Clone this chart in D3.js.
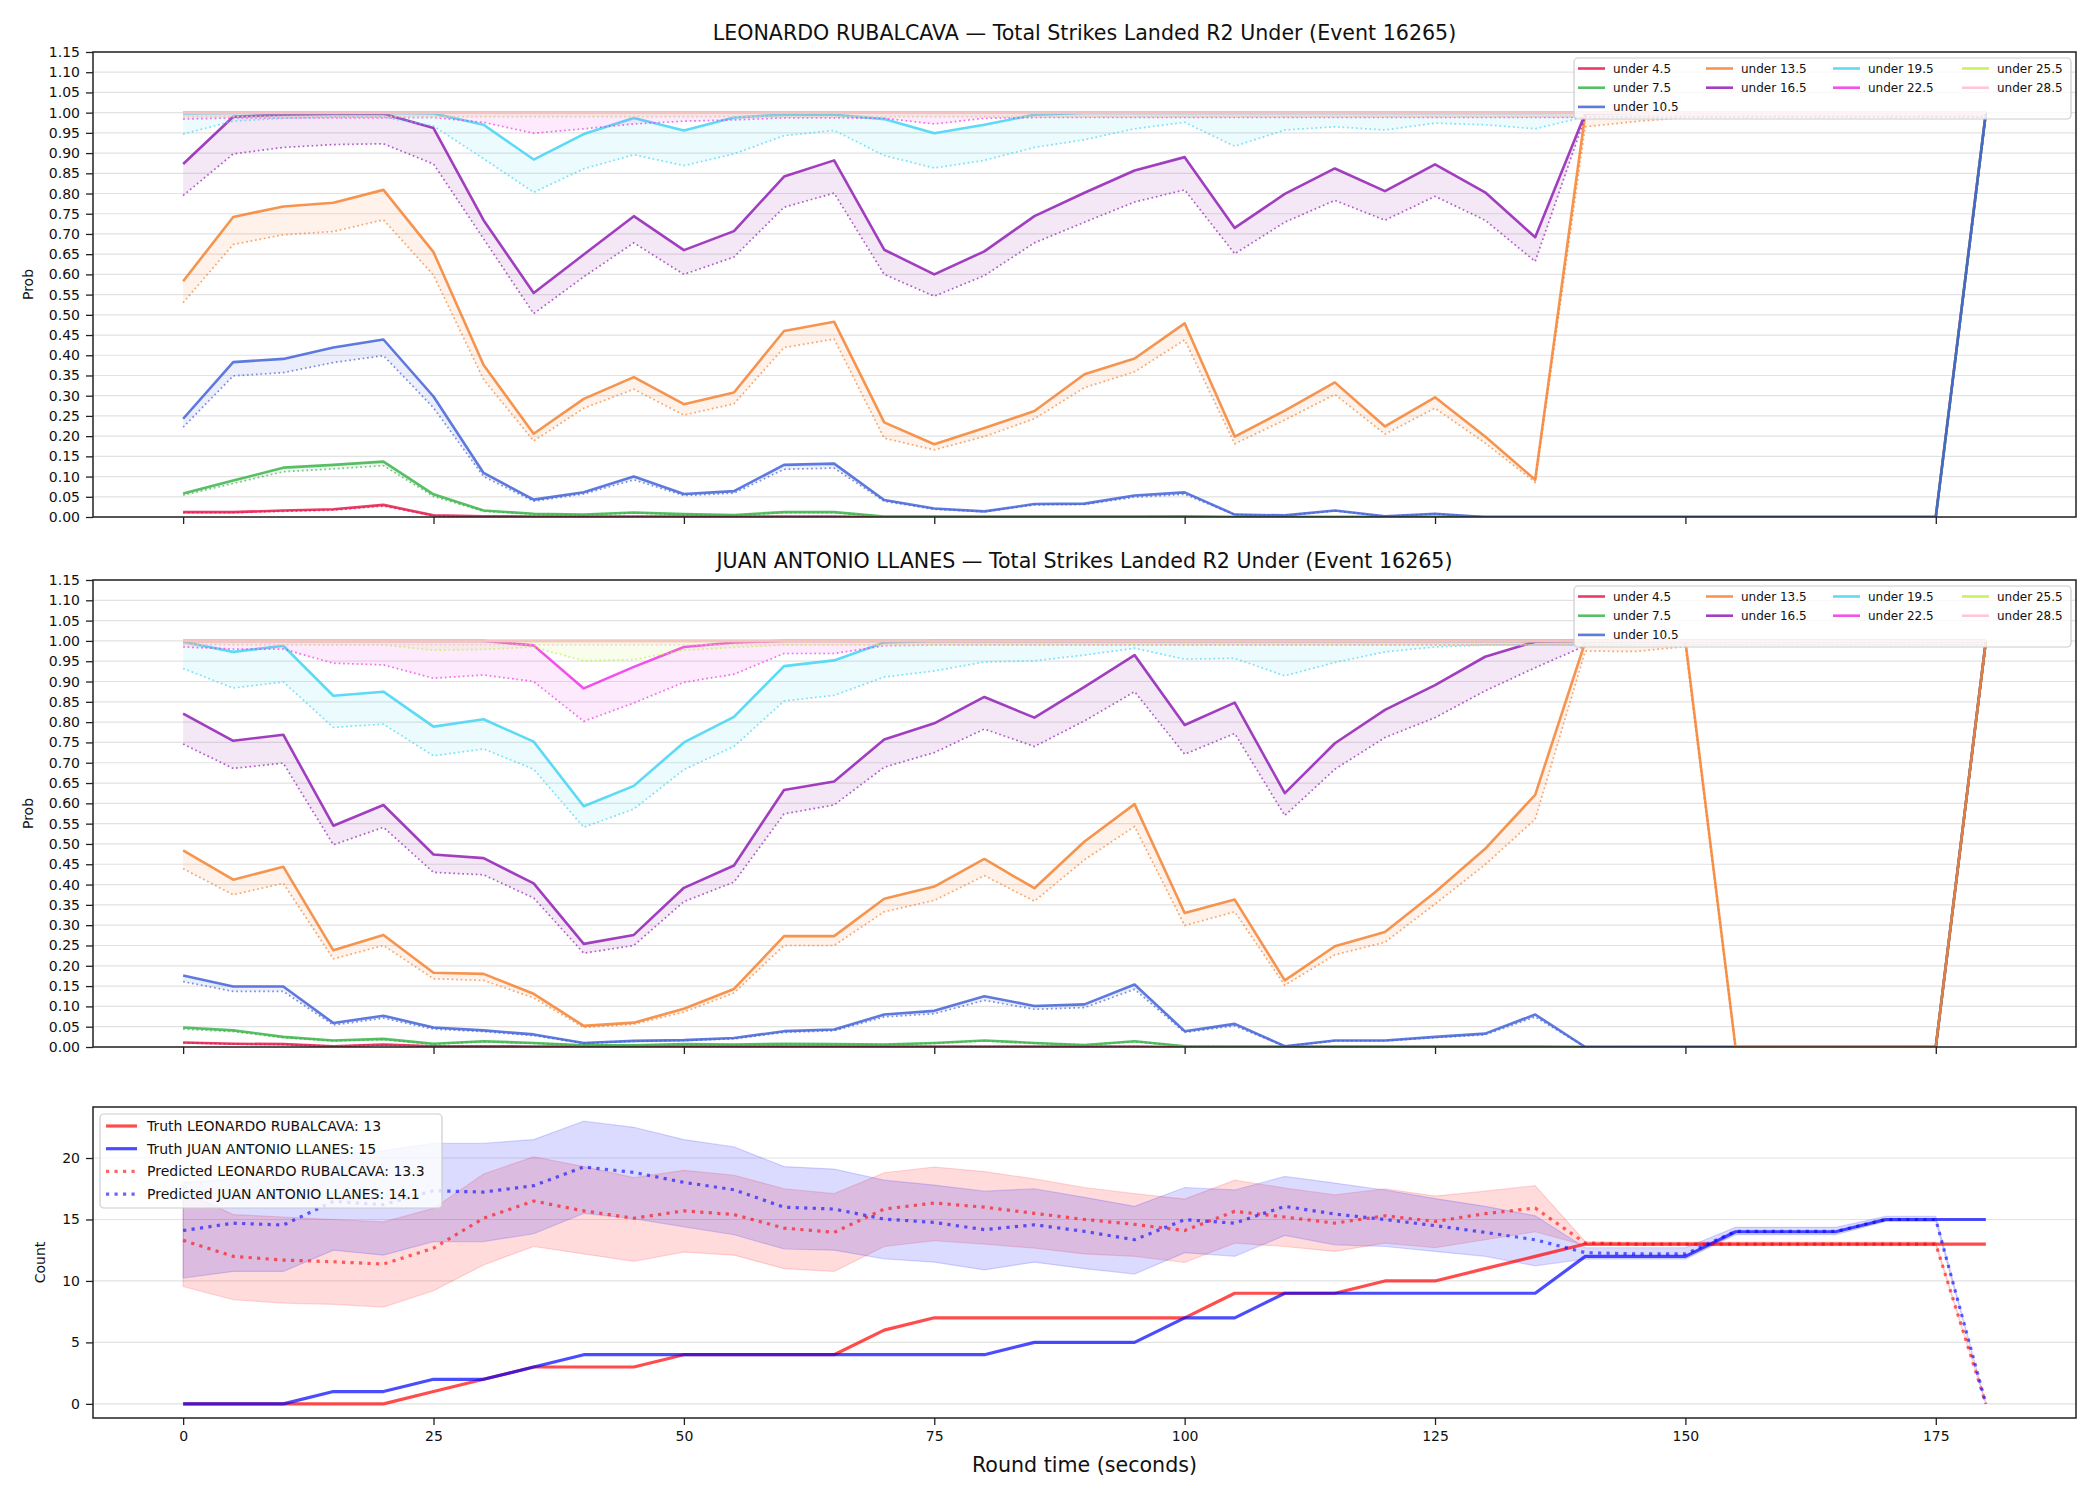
<!DOCTYPE html>
<html>
<head>
<meta charset="utf-8">
<script src="https://cdn.jsdelivr.net/npm/d3@7"></script>
<style>
  body { margin: 0; background: #fff; }
  svg { display: block; }
  text { font-family: "DejaVu Sans", sans-serif; fill: #111; }
</style>
</head>
<body>
<svg id="chart" width="2100" height="1500"></svg>
<script>
// round time, seconds
var time = [0, 5, 10, 15, 20, 25, 30, 35, 40, 45,
            50, 55, 60, 65, 70, 75, 80, 85, 90, 95,
            100, 105, 110, 115, 120, 125, 130, 135, 140, 145,
            150, 155, 160, 165, 170, 175, 180];

var timeTicks = [0, 25, 50, 75, 100, 125, 150, 175];
var probTicks = [0, 0.05, 0.10, 0.15, 0.20, 0.25, 0.30, 0.35, 0.40, 0.45, 0.50, 0.55,
                 0.60, 0.65, 0.70, 0.75, 0.80, 0.85, 0.90, 0.95, 1.00, 1.05, 1.10, 1.15];
var countTicks = [0, 5, 10, 15, 20];

var thresholds = ['under 4.5', 'under 7.5', 'under 10.5', 'under 13.5', 'under 16.5',
                  'under 19.5', 'under 22.5', 'under 25.5', 'under 28.5'];
var colors = ['#e6194b', '#3cb44b', '#4363d8', '#f58231', '#911eb4',
              '#42d4f4', '#f032e6', '#bfef45', '#fabed4'];

var allOne = [1, 1, 1, 1, 1, 1, 1, 1, 1, 1,
              1, 1, 1, 1, 1, 1, 1, 1, 1, 1,
              1, 1, 1, 1, 1, 1, 1, 1, 1, 1,
              1, 1, 1, 1, 1, 1, 1];
var allNear = [0.99, 0.99, 0.99, 0.99, 0.99, 0.99, 0.99, 0.99, 0.99, 0.99,
               0.99, 0.99, 0.99, 0.99, 0.99, 0.99, 0.99, 0.99, 0.99, 0.99,
               0.99, 0.99, 0.99, 0.99, 0.99, 0.99, 0.99, 0.99, 0.99, 0.99,
               0.99, 0.99, 0.99, 0.99, 0.99, 0.99, 0.99];

// ---- LEONARDO RUBALCAVA (solid = line, dotted = lower band) ----
var leoU45 = [0.012, 0.012, 0.016, 0.019, 0.030, 0.004, 0.002, 0.001, 0.001, 0.001,
              0.001, 0.001, 0.001, 0.001, 0, 0, 0, 0, 0, 0,
              0, 0, 0, 0, 0, 0, 0, 0, 0, 0,
              0, 0, 0, 0, 0, 0, 1];
var leoD45 = [0.011, 0.011, 0.014, 0.017, 0.027, 0.003, 0.001, 0.001, 0.001, 0.001,
              0.001, 0.001, 0.001, 0.001, 0, 0, 0, 0, 0, 0,
              0, 0, 0, 0, 0, 0, 0, 0, 0, 0,
              0, 0, 0, 0, 0, 0, 0.99];
var leoU75 = [0.058, 0.090, 0.122, 0.129, 0.137, 0.056, 0.016, 0.008, 0.006, 0.011,
              0.007, 0.005, 0.012, 0.012, 0.001, 0.001, 0.001, 0.001, 0.001, 0.001,
              0.002, 0, 0, 0, 0, 0, 0, 0, 0, 0,
              0, 0, 0, 0, 0, 0, 1];
var leoD75 = [0.054, 0.083, 0.112, 0.119, 0.127, 0.051, 0.014, 0.007, 0.005, 0.010,
              0.006, 0.004, 0.011, 0.011, 0.001, 0.001, 0.001, 0.001, 0.001, 0.001,
              0.002, 0, 0, 0, 0, 0, 0, 0, 0, 0,
              0, 0, 0, 0, 0, 0, 0.99];
var leoU105 = [0.243, 0.383, 0.391, 0.419, 0.439, 0.298, 0.109, 0.043, 0.061, 0.100,
               0.057, 0.064, 0.129, 0.132, 0.042, 0.021, 0.014, 0.032, 0.033, 0.053,
               0.061, 0.006, 0.004, 0.016, 0.002, 0.008, 0, 0, 0, 0,
               0, 0, 0, 0, 0, 0, 1];
var leoD105 = [0.222, 0.349, 0.357, 0.382, 0.399, 0.270, 0.100, 0.039, 0.057, 0.092,
               0.053, 0.059, 0.118, 0.121, 0.039, 0.019, 0.013, 0.030, 0.031, 0.049,
               0.056, 0.006, 0.004, 0.015, 0.002, 0.007, 0, 0, 0, 0,
               0, 0, 0, 0, 0, 0, 0.99];
var leoU135 = [0.583, 0.742, 0.768, 0.777, 0.809, 0.655, 0.376, 0.206, 0.292, 0.346,
               0.279, 0.308, 0.460, 0.483, 0.234, 0.180, 0.220, 0.262, 0.353, 0.392,
               0.479, 0.199, 0.263, 0.333, 0.224, 0.296, 0.199, 0.092, 0.998, 1,
               1, 1, 1, 1, 1, 1, 1];
var leoD135 = [0.530, 0.674, 0.698, 0.706, 0.735, 0.598, 0.340, 0.188, 0.269, 0.316,
               0.252, 0.280, 0.419, 0.440, 0.195, 0.166, 0.199, 0.243, 0.320, 0.359,
               0.438, 0.181, 0.240, 0.303, 0.205, 0.269, 0.183, 0.086, 0.965, 0.978,
               0.988, 0.99, 0.99, 0.99, 0.99, 0.99, 0.99];
var leoU165 = [0.873, 0.990, 0.995, 0.997, 0.997, 0.962, 0.734, 0.554, 0.649, 0.744,
               0.660, 0.707, 0.842, 0.882, 0.661, 0.600, 0.657, 0.744, 0.802, 0.857,
               0.890, 0.715, 0.799, 0.862, 0.806, 0.872, 0.803, 0.692, 0.998, 1,
               1, 1, 1, 1, 1, 1, 1];
var leoD165 = [0.795, 0.898, 0.914, 0.921, 0.923, 0.873, 0.688, 0.503, 0.594, 0.678,
               0.600, 0.643, 0.766, 0.801, 0.600, 0.546, 0.597, 0.678, 0.729, 0.779,
               0.809, 0.651, 0.729, 0.783, 0.734, 0.793, 0.734, 0.632, 0.990, 0.99,
               0.99, 0.99, 0.99, 0.99, 0.99, 0.99, 0.99];
var leoU195 = [0.998, 0.999, 0.999, 0.999, 0.999, 0.998, 0.970, 0.884, 0.947, 0.987,
               0.956, 0.988, 0.995, 0.995, 0.984, 0.949, 0.970, 0.995, 0.999, 0.999,
               0.999, 0.999, 0.999, 0.999, 0.999, 0.999, 0.999, 0.999, 1, 1,
               1, 1, 1, 1, 1, 1, 1];
var leoD195 = [0.947, 0.979, 0.986, 0.989, 0.989, 0.967, 0.886, 0.803, 0.861, 0.896,
               0.869, 0.898, 0.943, 0.956, 0.894, 0.863, 0.882, 0.914, 0.933, 0.960,
               0.976, 0.917, 0.957, 0.965, 0.957, 0.974, 0.970, 0.960, 0.990, 0.99,
               0.99, 0.99, 0.99, 0.99, 0.99, 0.99, 0.99];
var leoD225 = [0.984, 0.987, 0.987, 0.987, 0.987, 0.988, 0.976, 0.949, 0.960, 0.972,
               0.979, 0.982, 0.987, 0.987, 0.986, 0.972, 0.986, 0.988, 0.988, 0.988,
               0.988, 0.988, 0.988, 0.988, 0.988, 0.988, 0.988, 0.988, 0.988, 0.988,
               0.988, 0.988, 0.988, 0.988, 0.988, 0.988, 0.988];

// ---- JUAN ANTONIO LLANES ----
var juaU45 = [0.011, 0.008, 0.007, 0.002, 0.006, 0.002, 0.002, 0.001, 0.001, 0.001,
              0.001, 0.001, 0.001, 0.001, 0.001, 0.001, 0.001, 0.001, 0.001, 0.001,
              0, 0, 0, 0, 0, 0, 0, 0, 0, 0,
              0, 0, 0, 0, 0, 0, 1];
var juaD45 = [0.010, 0.007, 0.006, 0.002, 0.005, 0.002, 0.002, 0.001, 0.001, 0.001,
              0.001, 0.001, 0.001, 0.001, 0.001, 0.001, 0.001, 0.001, 0.001, 0.001,
              0, 0, 0, 0, 0, 0, 0, 0, 0, 0,
              0, 0, 0, 0, 0, 0, 0.99];
var juaU75 = [0.048, 0.041, 0.025, 0.016, 0.020, 0.008, 0.014, 0.010, 0.004, 0.004,
              0.007, 0.006, 0.008, 0.007, 0.006, 0.010, 0.016, 0.010, 0.005, 0.014,
              0.002, 0.001, 0.001, 0.001, 0.001, 0.001, 0.001, 0.001, 0, 0,
              0, 0, 0, 0, 0, 0, 1];
var juaD75 = [0.044, 0.038, 0.023, 0.015, 0.018, 0.007, 0.013, 0.009, 0.004, 0.004,
              0.006, 0.005, 0.007, 0.006, 0.006, 0.009, 0.015, 0.009, 0.005, 0.013,
              0.002, 0.001, 0.001, 0.001, 0.001, 0.001, 0.001, 0.001, 0, 0,
              0, 0, 0, 0, 0, 0, 0.99];
var juaU105 = [0.176, 0.149, 0.149, 0.059, 0.077, 0.048, 0.041, 0.031, 0.010, 0.015,
               0.017, 0.022, 0.039, 0.043, 0.080, 0.089, 0.125, 0.101, 0.105, 0.154,
               0.039, 0.057, 0.002, 0.016, 0.016, 0.025, 0.033, 0.080, 0, 0,
               0, 0, 0, 0, 0, 0, 1];
var juaD105 = [0.161, 0.137, 0.137, 0.054, 0.071, 0.044, 0.038, 0.028, 0.009, 0.014,
               0.016, 0.020, 0.036, 0.040, 0.074, 0.082, 0.115, 0.093, 0.097, 0.142,
               0.036, 0.052, 0.002, 0.015, 0.015, 0.023, 0.030, 0.074, 0, 0,
               0, 0, 0, 0, 0, 0, 0.99];
var juaU135 = [0.484, 0.412, 0.444, 0.238, 0.276, 0.183, 0.180, 0.131, 0.052, 0.060,
               0.094, 0.143, 0.273, 0.273, 0.365, 0.395, 0.463, 0.391, 0.506, 0.598,
               0.330, 0.363, 0.164, 0.248, 0.283, 0.381, 0.488, 0.621, 0.998, 1,
               1, 0, 0, 0, 0, 0, 1];
var juaD135 = [0.439, 0.375, 0.403, 0.217, 0.250, 0.168, 0.164, 0.121, 0.048, 0.056,
               0.086, 0.133, 0.250, 0.250, 0.333, 0.361, 0.422, 0.359, 0.461, 0.543,
               0.299, 0.333, 0.152, 0.227, 0.258, 0.352, 0.449, 0.561, 0.975, 0.974,
               0.986, 0, 0, 0, 0, 0, 0.99];
var juaU165 = [0.821, 0.754, 0.769, 0.545, 0.596, 0.474, 0.465, 0.403, 0.254, 0.276,
               0.392, 0.447, 0.633, 0.654, 0.757, 0.797, 0.862, 0.811, 0.887, 0.965,
               0.793, 0.848, 0.625, 0.748, 0.830, 0.891, 0.961, 0.998, 1, 1,
               1, 1, 1, 1, 1, 1, 1];
var juaD165 = [0.746, 0.686, 0.699, 0.498, 0.541, 0.430, 0.424, 0.367, 0.231, 0.250,
               0.358, 0.406, 0.574, 0.596, 0.689, 0.725, 0.783, 0.740, 0.803, 0.875,
               0.721, 0.772, 0.570, 0.684, 0.762, 0.811, 0.877, 0.934, 0.988, 0.99,
               0.99, 0.99, 0.99, 0.99, 0.99, 0.99, 0.99];
var juaU195 = [0.998, 0.973, 0.988, 0.865, 0.875, 0.789, 0.807, 0.752, 0.593, 0.643,
               0.750, 0.813, 0.938, 0.952, 0.996, 1, 1, 1, 1, 1,
               1, 1, 1, 1, 1, 1, 1, 1, 1, 1,
               1, 1, 1, 1, 1, 1, 1];
var juaD195 = [0.932, 0.884, 0.899, 0.787, 0.795, 0.717, 0.734, 0.684, 0.541, 0.586,
               0.683, 0.740, 0.852, 0.866, 0.911, 0.926, 0.948, 0.951, 0.965, 0.982,
               0.955, 0.957, 0.914, 0.947, 0.973, 0.985, 0.99, 0.99, 0.99, 0.99,
               0.99, 0.99, 0.99, 0.99, 0.99, 0.99, 0.99];
var juaU225 = [1, 1, 1, 1, 1, 1, 1, 0.989, 0.883, 0.936,
               0.985, 0.996, 1, 1, 1, 1, 1, 1, 1, 1,
               1, 1, 1, 1, 1, 1, 1, 1, 1, 1,
               1, 1, 1, 1, 1, 1, 1];
var juaD225 = [0.985, 0.980, 0.980, 0.945, 0.941, 0.908, 0.916, 0.900, 0.802, 0.847,
               0.898, 0.918, 0.969, 0.969, 0.988, 0.99, 0.99, 0.99, 0.99, 0.99,
               0.99, 0.99, 0.99, 0.99, 0.99, 0.99, 0.99, 0.99, 0.99, 0.99,
               0.99, 0.99, 0.99, 0.99, 0.99, 0.99, 0.99];
var juaD255 = [0.992, 0.991, 0.991, 0.990, 0.990, 0.977, 0.979, 0.985, 0.951, 0.954,
               0.977, 0.984, 0.99, 0.99, 0.99, 0.99, 0.99, 0.99, 0.99, 0.99,
               0.99, 0.99, 0.99, 0.99, 0.99, 0.99, 0.99, 0.99, 0.99, 0.99,
               0.99, 0.99, 0.99, 0.99, 0.99, 0.99, 0.99];

// ---- strike counts ----
var truthLeo = [0, 0, 0, 0, 0, 1, 2, 3, 3, 3,
                4, 4, 4, 4, 6, 7, 7, 7, 7, 7,
                7, 9, 9, 9, 10, 10, 11, 12, 13, 13,
                13, 13, 13, 13, 13, 13, 13];
var truthJua = [0, 0, 0, 1, 1, 2, 2, 3, 4, 4,
                4, 4, 4, 4, 4, 4, 4, 5, 5, 5,
                7, 7, 9, 9, 9, 9, 9, 9, 12, 12,
                12, 14, 14, 14, 15, 15, 15];
var predLeo = [13.3, 12.0, 11.7, 11.56, 11.37, 12.67, 15.1, 16.5, 15.7, 15.1,
               15.7, 15.4, 14.3, 13.95, 15.85, 16.34, 16.0, 15.5, 15.0, 14.6,
               14.1, 15.66, 15.2, 14.7, 15.3, 14.84, 15.47, 15.93, 13.08, 13.0,
               13.0, 13.0, 13.0, 13.0, 13.0, 13.0, 0];
var predJua = [14.1, 14.7, 14.55, 16.47, 16.2, 17.34, 17.23, 17.75, 19.27, 18.83,
               18.02, 17.42, 16.0, 15.85, 15.03, 14.76, 14.17, 14.57, 14.03, 13.35,
               14.98, 14.7, 16.07, 15.44, 15.0, 14.5, 13.95, 13.35, 12.3, 12.2,
               12.2, 14.03, 14.03, 14.03, 15.0, 15.0, 0];
var leoHi = [17.3, 15.4, 15.2, 15.0, 14.8, 15.9, 18.7, 20.1, 19.3, 18.4,
             19.0, 18.6, 17.5, 17.1, 18.8, 19.27, 18.9, 18.3, 17.6, 17.1,
             16.66, 18.2, 17.56, 17.0, 17.5, 16.9, 17.3, 17.75, 13.2, 13.15,
             13.15, 13.15, 13.15, 13.15, 13.15, 13.15, 0];
var leoLo = [9.55, 8.47, 8.2, 8.1, 7.87, 9.2, 11.3, 12.8, 12.2, 11.6,
             12.35, 12.1, 11.0, 10.77, 12.8, 13.27, 13.0, 12.67, 12.2, 12.0,
             11.5, 13.08, 12.8, 12.4, 13.08, 12.7, 13.35, 14.0, 12.9, 12.9,
             12.9, 12.9, 12.9, 12.9, 12.9, 12.9, 0];
var juaHi = [18.0, 18.3, 18.4, 20.3, 20.6, 21.2, 21.2, 21.5, 23.0, 22.5,
             21.5, 20.9, 19.3, 19.1, 18.2, 17.8, 17.3, 17.5, 16.8, 16.07,
             17.6, 17.4, 18.5, 17.96, 17.4, 16.7, 16.07, 15.3, 12.7, 12.7,
             12.7, 14.36, 14.36, 14.36, 15.25, 15.25, 0];
var juaLo = [10.23, 10.77, 10.77, 12.5, 12.1, 13.2, 13.2, 13.84, 15.5, 15.06,
             14.4, 13.76, 12.6, 12.5, 11.8, 11.53, 10.9, 11.53, 11.0, 10.56,
             12.3, 12.0, 13.7, 12.94, 12.8, 12.4, 12.0, 11.23, 11.78, 11.78,
             11.78, 13.76, 13.76, 13.76, 14.84, 14.84, 0];

var countLegend = ['Truth LEONARDO RUBALCAVA: 13', 'Truth JUAN ANTONIO LLANES: 15',
                   'Predicted LEONARDO RUBALCAVA: 13.3', 'Predicted JUAN ANTONIO LLANES: 14.1'];

// ---------------------------------------------------------------
var width = 2100, height = 1500;
var left = 93, right = 2076;

var svg = d3.select('#chart');
svg.append('rect').attr('width', width).attr('height', height).attr('fill', '#fff');

var x = d3.scaleLinear().domain([-9, 189]).range([left, right]);

function styleAxis(g, fontSize) {
    g.select('.domain').remove();
    g.selectAll('.tick line').attr('stroke', '#222').attr('stroke-width', 1.3);
    g.selectAll('.tick text')
        .attr('font-size', fontSize)
        .attr('font-family', '"DejaVu Sans", sans-serif')
        .attr('fill', '#111');
}

function gridAndClip(id, top, bottom, y, ticks) {
    svg.append('clipPath').attr('id', id)
        .append('rect').attr('x', left).attr('y', top)
        .attr('width', right - left).attr('height', bottom - top);
    svg.append('g').selectAll('line').data(ticks).enter().append('line')
        .attr('x1', left).attr('x2', right)
        .attr('y1', function (d) { return y(d); })
        .attr('y2', function (d) { return y(d); })
        .attr('stroke', '#e2e2e2').attr('stroke-width', 1.2);
}

function frame(top, bottom) {
    svg.append('rect')
        .attr('x', left).attr('y', top)
        .attr('width', right - left).attr('height', bottom - top)
        .attr('fill', 'none').attr('stroke', '#222').attr('stroke-width', 1.5);
}

function probPanel(id, top, bottom, title, solids, lows) {
    var y = d3.scaleLinear().domain([0, 1.15]).range([bottom, top]);
    gridAndClip(id, top, bottom, y, probTicks);

    var g = svg.append('g').attr('clip-path', 'url(#' + id + ')');
    var line = d3.line()
        .x(function (d, i) { return x(time[i]); })
        .y(function (d) { return y(d); });

    solids.forEach(function (s, k) {
        var lo = lows[k];
        var area = d3.area()
            .x(function (d, i) { return x(time[i]); })
            .y0(function (d, i) { return y(lo[i]); })
            .y1(function (d) { return y(d); });
        g.append('path').attr('d', area(s))
            .attr('fill', colors[k]).attr('fill-opacity', 0.1);
        g.append('path').attr('d', line(s))
            .attr('fill', 'none').attr('stroke', colors[k])
            .attr('stroke-width', 2.6).attr('stroke-opacity', 0.85)
            .attr('stroke-linejoin', 'round');
        g.append('path').attr('d', line(lo))
            .attr('fill', 'none').attr('stroke', colors[k])
            .attr('stroke-width', 1.7).attr('stroke-opacity', 0.7)
            .attr('stroke-dasharray', '1.7,2.8');
    });

    frame(top, bottom);

    var ya = svg.append('g').attr('transform', 'translate(' + left + ',0)')
        .call(d3.axisLeft(y).tickValues(probTicks).tickFormat(d3.format('.2f'))
            .tickSize(7).tickPadding(6));
    styleAxis(ya, 14);
    var xa = svg.append('g').attr('transform', 'translate(0,' + bottom + ')')
        .call(d3.axisBottom(x).tickValues(timeTicks).tickFormat('').tickSize(7));
    styleAxis(xa, 14);

    svg.append('text').attr('x', (left + right) / 2).attr('y', top - 12.5)
        .attr('text-anchor', 'middle').attr('font-size', 20.6).text(title);
    svg.append('text')
        .attr('transform', 'translate(28,' + (top + bottom) / 2 + ') rotate(-90)')
        .attr('text-anchor', 'middle').attr('dy', '0.35em')
        .attr('font-size', 14).text('Prob');

    // legend, 4 columns filled column-wise (3,2,2,2)
    var lg = svg.append('g');
    lg.append('rect')
        .attr('x', 1574).attr('y', top + 6).attr('width', 497).attr('height', 61)
        .attr('rx', 4).attr('fill', '#fff').attr('fill-opacity', 0.8)
        .attr('stroke', '#cccccc').attr('stroke-width', 1.2);
    var colX = [1578, 1706, 1833, 1962];
    var slot = [[0, 0], [0, 1], [0, 2], [1, 0], [1, 1], [2, 0], [2, 1], [3, 0], [3, 1]];
    thresholds.forEach(function (name, k) {
        var cx = colX[slot[k][0]], cy = top + 16.5 + slot[k][1] * 19.2;
        lg.append('line').attr('x1', cx).attr('x2', cx + 27)
            .attr('y1', cy).attr('y2', cy)
            .attr('stroke', colors[k]).attr('stroke-width', 2.6).attr('stroke-opacity', 0.85);
        lg.append('text').attr('x', cx + 35).attr('y', cy).attr('dy', '0.35em')
            .attr('font-size', 12).text(name);
    });
}

probPanel('clipA', 52, 517, 'LEONARDO RUBALCAVA \u2014 Total Strikes Landed R2 Under (Event 16265)',
    [leoU45, leoU75, leoU105, leoU135, leoU165, leoU195, allOne, allOne, allOne],
    [leoD45, leoD75, leoD105, leoD135, leoD165, leoD195, leoD225, allNear, allNear]);

probPanel('clipB', 580, 1047, 'JUAN ANTONIO LLANES \u2014 Total Strikes Landed R2 Under (Event 16265)',
    [juaU45, juaU75, juaU105, juaU135, juaU165, juaU195, juaU225, allOne, allOne],
    [juaD45, juaD75, juaD105, juaD135, juaD165, juaD195, juaD225, juaD255, allNear]);

// ---- count panel ----
var cTop = 1107, cBottom = 1418;
var yc = d3.scaleLinear().domain([-1.15, 24.15]).range([cBottom, cTop]);
gridAndClip('clipC', cTop, cBottom, yc, countTicks);
var gc = svg.append('g').attr('clip-path', 'url(#clipC)');

var red = '#ff0000', blue = '#0000ff';
var cLine = d3.line()
    .x(function (d, i) { return x(time[i]); })
    .y(function (d) { return yc(d); });

function band(lo, hi, c) {
    var a = d3.area()
        .x(function (d, i) { return x(time[i]); })
        .y0(function (d, i) { return yc(lo[i]); })
        .y1(function (d) { return yc(d); });
    gc.append('path').attr('d', a(hi))
        .attr('fill', c).attr('fill-opacity', 0.14)
        .attr('stroke', c).attr('stroke-opacity', 0.15).attr('stroke-width', 1.2);
}
band(leoLo, leoHi, red);
band(juaLo, juaHi, blue);

function cPath(data, c, dotted) {
    var p = gc.append('path').attr('d', cLine(data))
        .attr('fill', 'none').attr('stroke', c)
        .attr('stroke-width', 3.2).attr('stroke-opacity', dotted ? 0.6 : 0.7)
        .attr('stroke-linejoin', 'round');
    if (dotted) p.attr('stroke-dasharray', '3.2,5.3');
}
cPath(truthLeo, red, false);
cPath(truthJua, blue, false);
cPath(predLeo, red, true);
cPath(predJua, blue, true);

frame(cTop, cBottom);

var yca = svg.append('g').attr('transform', 'translate(' + left + ',0)')
    .call(d3.axisLeft(yc).tickValues(countTicks).tickFormat(d3.format('d')).tickSize(7).tickPadding(6));
styleAxis(yca, 14);
var xca = svg.append('g').attr('transform', 'translate(0,' + cBottom + ')')
    .call(d3.axisBottom(x).tickValues(timeTicks).tickFormat(d3.format('d')).tickSize(7).tickPadding(6));
styleAxis(xca, 14);

svg.append('text').attr('x', (left + right) / 2).attr('y', 1472)
    .attr('text-anchor', 'middle').attr('font-size', 20.6).text('Round time (seconds)');
svg.append('text')
    .attr('transform', 'translate(40,' + (cTop + cBottom) / 2 + ') rotate(-90)')
    .attr('text-anchor', 'middle').attr('dy', '0.35em')
    .attr('font-size', 14).text('Count');

// count legend
var cl = svg.append('g');
cl.append('rect').attr('x', 100).attr('y', 1114).attr('width', 342).attr('height', 94)
    .attr('rx', 4).attr('fill', '#fff').attr('fill-opacity', 0.8)
    .attr('stroke', '#cccccc').attr('stroke-width', 1.2);
var legColors = [red, blue, red, blue];
countLegend.forEach(function (name, k) {
    var cy = 1126 + k * 22.7;
    var l = cl.append('line').attr('x1', 106).attr('x2', 137).attr('y1', cy).attr('y2', cy)
        .attr('stroke', legColors[k]).attr('stroke-width', 3.2)
        .attr('stroke-opacity', k < 2 ? 0.7 : 0.6);
    if (k >= 2) l.attr('stroke-dasharray', '3.2,5.3');
    cl.append('text').attr('x', 147).attr('y', cy).attr('dy', '0.35em')
        .attr('font-size', 14).text(name);
});
</script>
</body>
</html>
